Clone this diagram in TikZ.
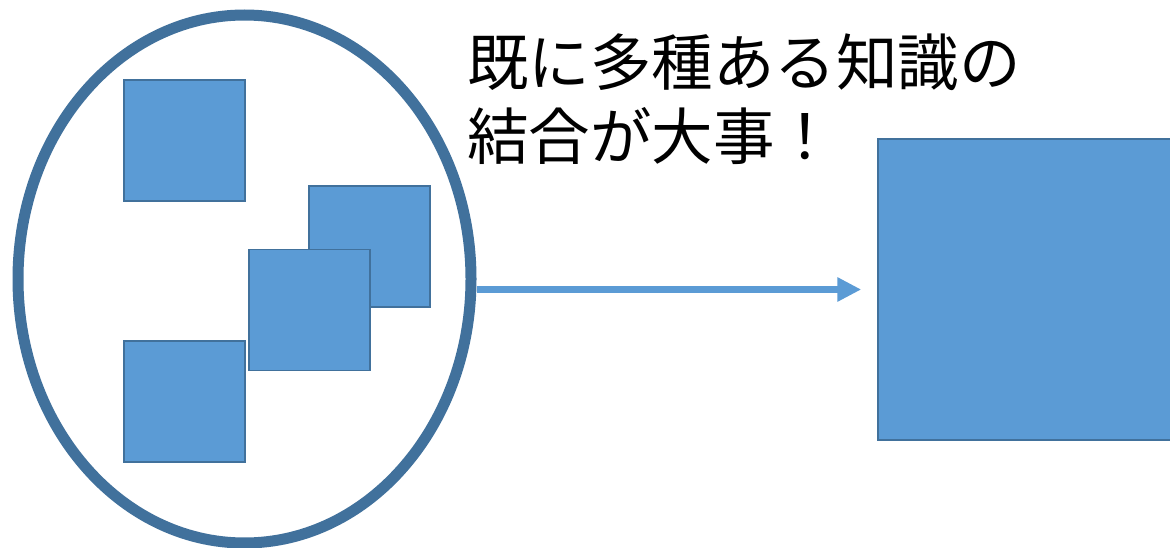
\documentclass[tikz,border=0pt]{standalone}
\usepackage{fontspec}
\newfontfamily\cjk{Noto Sans CJK JP}
\usetikzlibrary{shapes.geometric,arrows.meta}
\definecolor{boxfill}{HTML}{5B9BD5}
\definecolor{boxline}{HTML}{41719C}
\tikzset{
  knowbox/.style={rectangle,draw=boxline,fill=boxfill,line width=1.5pt,inner sep=0pt,minimum size=121pt},
  bigbox/.style={rectangle,draw=boxline,fill=boxfill,line width=1.5pt,inner sep=0pt,minimum size=301pt},
  ring/.style={ellipse,draw=boxline,line width=11pt,inner sep=0pt,minimum width=453pt,minimum height=528pt},
  flow/.style={draw=boxfill,line width=7pt,-{Triangle[length=24pt,width=23pt]}},
  label/.style={inner sep=0pt,anchor=base west,font=\cjk\fontsize{61.5}{73}\selectfont}
}
\begin{document}
\begin{tikzpicture}[x=1pt,y=-1pt]
\useasboundingbox (0,0) rectangle (1170,548);
\clip (0,0) rectangle (1170,548);
\fill[white] (0,0) rectangle (1170,548);
\node[ring] (ell) at (244.5,279) {};
\node[knowbox] (s1) at (184.5,140.5) {};
\node[knowbox] (s2) at (369.5,246.5) {};
\node[knowbox] (s3) at (309.5,310) {};
\node[knowbox] (s4) at (184.5,401.5) {};
\node[bigbox] (big) at (1028.5,289.5) {};
\draw[flow] (ell.east |- big.west) -- ([xshift=-16pt]big.west);
\node[label] (t1) at (467,86) {既に多種ある知識の};
\node[label] (t2) at (467,160) {結合が大事！};
\end{tikzpicture}
\end{document}
